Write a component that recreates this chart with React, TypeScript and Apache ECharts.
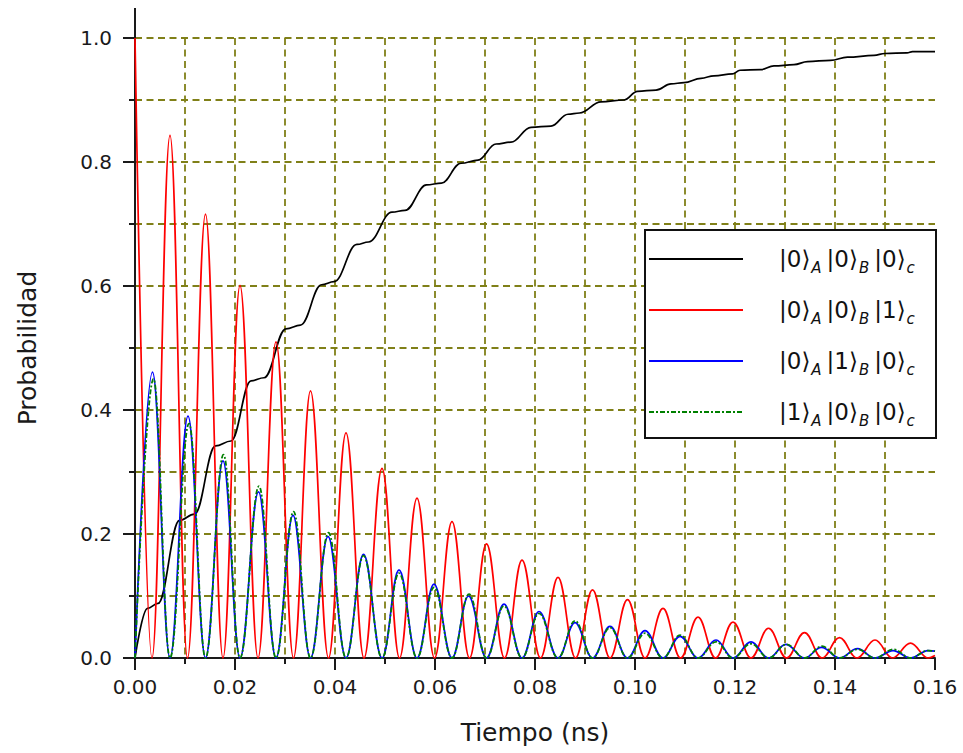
import React, { useEffect, useRef } from 'react';
import * as echarts from 'echarts';

// ---- data ----
const xTickLabels = ['0.00', '0.02', '0.04', '0.06', '0.08', '0.10', '0.12', '0.14', '0.16'];
const yTickLabels = ['0.0', '0.2', '0.4', '0.6', '0.8', '1.0'];

const seriesNames = ['|0⟩A|0⟩B|0⟩c', '|0⟩A|0⟩B|1⟩c', '|0⟩A|1⟩B|0⟩c', '|1⟩A|0⟩B|0⟩c'];
const ketDigits = [
  ['0', '0', '0'],
  ['0', '0', '1'],
  ['0', '1', '0'],
  ['1', '0', '0'],
];
const ketSubs = ['A', 'B', 'c'];

// |0>A|0>B|0>c : staircase rise (plateau start / end points)
const blackData: [number, number][] = [
  [0, 0], [0.0025, 0.080], [0.0046, 0.088], [0.0089, 0.222], [0.0119, 0.232],
  [0.0161, 0.342], [0.0192, 0.350], [0.0232, 0.447], [0.0258, 0.452],
  [0.0302, 0.531], [0.0331, 0.537], [0.0373, 0.602], [0.0398, 0.607],
  [0.0444, 0.667], [0.0467, 0.671], [0.0514, 0.719], [0.0540, 0.722],
  [0.0583, 0.763], [0.0613, 0.766], [0.0652, 0.798], [0.0686, 0.803],
  [0.0722, 0.829], [0.0752, 0.832], [0.0792, 0.856], [0.0832, 0.858],
  [0.0866, 0.877], [0.0889, 0.879], [0.0932, 0.897], [0.0978, 0.900],
  [0.1005, 0.914], [0.1042, 0.916], [0.1072, 0.926], [0.1098, 0.928],
  [0.1132, 0.935], [0.1158, 0.939], [0.1195, 0.942], [0.1210, 0.948],
  [0.1251, 0.949], [0.1278, 0.955], [0.1318, 0.957], [0.1345, 0.962],
  [0.1391, 0.964], [0.1425, 0.969], [0.1478, 0.972], [0.1500, 0.975],
  [0.1544, 0.976], [0.1555, 0.978], [0.1600, 0.978],
];

// |0>A|0>B|1>c : peaks and zeros
const redData: [number, number][] = [
  [0, 1.0], [0.0034, 0], [0.0070, 0.843], [0.0105, 0], [0.0141, 0.716], [0.0176, 0],
  [0.0210, 0.601], [0.0246, 0], [0.0282, 0.510], [0.0317, 0], [0.0351, 0.431], [0.0387, 0],
  [0.0422, 0.363], [0.0458, 0], [0.0494, 0.306], [0.0529, 0], [0.0564, 0.258], [0.0599, 0],
  [0.0634, 0.220], [0.0669, 0], [0.0703, 0.184], [0.0739, 0], [0.0774, 0.158], [0.0811, 0],
  [0.0846, 0.130], [0.0881, 0], [0.0915, 0.110], [0.0950, 0], [0.0985, 0.094], [0.1020, 0],
  [0.1056, 0.080], [0.1091, 0], [0.1126, 0.066], [0.1161, 0], [0.1196, 0.058], [0.1232, 0],
  [0.1267, 0.048], [0.1303, 0], [0.1339, 0.041], [0.1374, 0], [0.1409, 0.033], [0.1444, 0],
  [0.1480, 0.029], [0.1515, 0], [0.1551, 0.024], [0.1586, 0], [0.1600, 0.004],
];

// |0>A|1>B|0>c
const blueData: [number, number][] = [
  [0, 0], [0.0035, 0.461], [0.0070, 0], [0.0106, 0.390], [0.0141, 0], [0.0176, 0.318],
  [0.0210, 0], [0.0247, 0.268], [0.0282, 0], [0.0316, 0.230], [0.0351, 0], [0.0386, 0.196],
  [0.0422, 0], [0.0457, 0.167], [0.0494, 0], [0.0528, 0.142], [0.0564, 0], [0.0598, 0.119],
  [0.0634, 0], [0.0667, 0.100], [0.0703, 0], [0.0738, 0.087], [0.0774, 0], [0.0808, 0.075],
  [0.0846, 0], [0.0880, 0.057], [0.0915, 0], [0.0950, 0.051], [0.0985, 0], [0.1020, 0.044],
  [0.1056, 0], [0.1090, 0.035], [0.1126, 0], [0.1162, 0.029], [0.1196, 0], [0.1232, 0.026],
  [0.1267, 0], [0.1302, 0.022], [0.1339, 0], [0.1373, 0.017], [0.1409, 0], [0.1445, 0.015],
  [0.1480, 0], [0.1516, 0.012], [0.1551, 0], [0.1586, 0.012], [0.1600, 0.011],
];

// |1>A|0>B|0>c
const greenData: [number, number][] = [
  [0, 0], [0.0037, 0.450], [0.0070, 0], [0.0108, 0.378], [0.0141, 0], [0.0177, 0.328],
  [0.0210, 0], [0.0248, 0.277], [0.0282, 0], [0.0317, 0.236], [0.0351, 0], [0.0387, 0.202],
  [0.0422, 0], [0.0457, 0.165], [0.0494, 0], [0.0528, 0.137], [0.0564, 0], [0.0598, 0.114],
  [0.0634, 0], [0.0668, 0.103], [0.0703, 0], [0.0738, 0.084], [0.0774, 0], [0.0808, 0.072],
  [0.0846, 0], [0.0880, 0.060], [0.0915, 0], [0.0950, 0.049], [0.0985, 0], [0.1020, 0.040],
  [0.1056, 0], [0.1090, 0.037], [0.1126, 0], [0.1162, 0.026], [0.1196, 0], [0.1232, 0.023],
  [0.1267, 0], [0.1303, 0.022], [0.1339, 0], [0.1374, 0.019], [0.1409, 0], [0.1445, 0.014],
  [0.1480, 0], [0.1517, 0.014], [0.1551, 0], [0.1586, 0.012], [0.1600, 0.011],
];

const seriesData = [blackData, redData, blueData, greenData];
const seriesColors = ['#000000', '#ff0000', '#0000ff', '#008000'];

const FONT = "'DejaVu Sans', 'Noto Sans', sans-serif";
const AXIS_COLOR = '#1a1a1a';
const GRID_STYLE = { color: '#808018', width: 1.8, type: [7, 4.5] as number[] };

export default function App() {
  const ref = useRef<HTMLDivElement>(null);

  useEffect(() => {
    document.body.style.margin = '0';
    if (!ref.current) return;
    const chart = echarts.init(ref.current, undefined, { renderer: 'svg' });

    const gridLeft = 135;
    const gridTop = 38;

    const series = seriesData.map((d, i) => ({
      name: seriesNames[i],
      type: 'line',
      data: d,
      showSymbol: false,
      symbol: 'none',
      smooth: 0.4,
      smoothMonotone: 'x',
      clip: false,
      z: 2 + i,
      lineStyle: {
        color: seriesColors[i],
        width: i === 3 ? 1.8 : 1.7,
        type: i === 3 ? [5, 2, 2, 2] : 'solid',
      },
      itemStyle: { color: seriesColors[i] },
    }));

    const option: any = {
      animation: false,
      backgroundColor: '#ffffff',
      grid: { left: gridLeft, right: 28, top: gridTop, bottom: 95, containLabel: false },
      xAxis: {
        type: 'value',
        min: 0,
        max: 0.16,
        interval: 0.02,
        name: 'Tiempo (ns)',
        nameLocation: 'middle',
        nameGap: 62,
        nameTextStyle: { fontFamily: FONT, fontSize: 25, color: AXIS_COLOR },
        axisLine: { show: true, onZero: false, lineStyle: { color: AXIS_COLOR, width: 2 } },
        axisTick: { show: true, inside: false, length: 12, lineStyle: { color: AXIS_COLOR, width: 2 } },
        minorTick: { show: true, splitNumber: 2, length: 6, lineStyle: { color: AXIS_COLOR, width: 2 } },
        axisLabel: {
          margin: 19,
          fontFamily: FONT,
          fontSize: 20,
          color: AXIS_COLOR,
          formatter: (v: number) => {
            const idx = Math.round(v / 0.02);
            return xTickLabels[idx] ?? '';
          },
        },
        splitLine: { show: true, showMinLine: false, showMaxLine: false, lineStyle: GRID_STYLE },
        minorSplitLine: { show: true, lineStyle: GRID_STYLE },
      },
      yAxis: {
        type: 'value',
        min: 0,
        max: 1.0,
        interval: 0.2,
        name: 'Probabilidad',
        nameLocation: 'middle',
        nameGap: 95,
        nameTextStyle: { fontFamily: FONT, fontSize: 25, color: AXIS_COLOR },
        axisLine: { show: true, onZero: false, lineStyle: { color: AXIS_COLOR, width: 2 } },
        axisTick: { show: true, inside: false, length: 12, lineStyle: { color: AXIS_COLOR, width: 2 } },
        minorTick: { show: true, splitNumber: 2, length: 6, lineStyle: { color: AXIS_COLOR, width: 2 } },
        axisLabel: {
          margin: 23,
          fontFamily: FONT,
          fontSize: 20,
          color: AXIS_COLOR,
          formatter: (v: number) => {
            const idx = Math.round(v / 0.2);
            return yTickLabels[idx] ?? '';
          },
        },
        splitLine: { show: true, showMinLine: false, showMaxLine: true, lineStyle: GRID_STYLE },
        minorSplitLine: { show: true, lineStyle: GRID_STYLE },
      },
      legend: {
        orient: 'vertical',
        left: 648,
        top: 243,
        padding: 0,
        itemWidth: 94,
        itemHeight: 14,
        itemGap: 19,
        data: seriesNames,
        itemStyle: { opacity: 0, borderWidth: 0 },
        formatter: (name: string) => {
          const i = seriesNames.indexOf(name);
          const d = ketDigits[i];
          return (
            '{sp| }' +
            d.map((digit, j) => `{k||${digit}⟩}{s|${ketSubs[j]}}`).join('')
          );
        },
        textStyle: {
          fontFamily: FONT,
          color: '#111111',
          rich: {
            sp: { width: 31, fontSize: 10 },
            k: { fontFamily: FONT, fontSize: 23, lineHeight: 24, color: '#111111', verticalAlign: 'top' },
            s: {
              fontFamily: FONT,
              fontSize: 15,
              fontStyle: 'italic',
              lineHeight: 16,
              color: '#111111',
              padding: [17, 5, 0, 1],
            },
          },
        },
      },
      graphic: [
        {
          type: 'rect',
          z: 1,
          shape: { x: 645, y: 230, width: 291, height: 208 },
          style: { fill: '#ffffff', stroke: '#111111', lineWidth: 2 },
        },
        {
          type: 'line',
          z: 5,
          shape: { x1: gridLeft, y1: 8, x2: gridLeft, y2: gridTop },
          style: { stroke: AXIS_COLOR, lineWidth: 2 },
        },
      ],
      series,
    };

    chart.setOption(option);
    return () => chart.dispose();
  }, []);

  return (
    <div
      ref={ref}
      style={{ position: 'absolute', left: 0, top: 0, width: 963, height: 753, background: '#fff' }}
    />
  );
}
